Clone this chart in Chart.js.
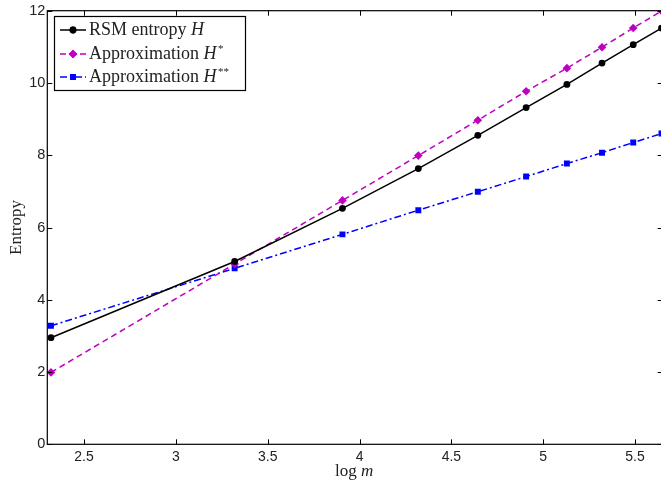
<!DOCTYPE html>
<html lang="en">
  <head>
    <meta charset="UTF-8" />
    <title>Entropy</title>
    <script src="https://cdn.jsdelivr.net/npm/chart.js"></script>
    <style>
      html, body { margin: 0; padding: 0; overflow: hidden; background: #fff; }
      #wrap { width: 670px; height: 483px; }
    </style>
  </head>
  <body>
    <div id="wrap"><canvas id="chart" width="670" height="483"></canvas></div>
    <script>
      // log m values (x) and the three entropy curves
      const logM = [2.32, 3.32, 3.907, 4.32, 4.644, 4.907, 5.129, 5.32, 5.49, 5.644];
      const rsmH = [2.95, 5.06, 6.53, 7.63, 8.55, 9.32, 9.96, 10.55, 11.06, 11.52];
      const approxH1 = [1.99, 4.99, 6.75, 7.99, 8.97, 9.77, 10.41, 10.99, 11.52, 11.99];
      const approxH2 = [3.28, 4.87, 5.81, 6.48, 6.99, 7.41, 7.77, 8.07, 8.35, 8.6];
      const xTicks = [2.5, 3, 3.5, 4, 4.5, 5, 5.5];
      const yTicks = [0, 2, 4, 6, 8, 10, 12];

      const serif = '"Liberation Serif", "DejaVu Serif", serif';
      const sans = '"Liberation Sans", Arial, sans-serif';
      const magenta = "#bf00bf";
      const blue = "#0000ff";

      function pts(ys) {
        return logM.map((x, i) => ({ x: x, y: ys[i] }));
      }

      // draws a string made of parts with different fonts / offsets
      function richText(ctx, parts, x, y) {
        for (const p of parts) {
          ctx.font = p.font;
          ctx.fillText(p.text, x, y + (p.dy || 0));
          x += ctx.measureText(p.text).width + (p.gap || 0);
        }
        return x;
      }

      const frame = {
        id: "frame",
        afterDraw(chart) {
          const ctx = chart.ctx;
          const a = chart.chartArea;
          const xs = chart.scales.x;
          const ys = chart.scales.y;
          ctx.save();
          ctx.strokeStyle = "#000";
          ctx.lineWidth = 1.2;
          ctx.strokeRect(a.left, a.top, a.right - a.left, a.bottom - a.top);
          ctx.lineWidth = 1;
          ctx.beginPath();
          for (const v of xTicks) {
            const px = Math.round(xs.getPixelForValue(v)) + 0.5;
            ctx.moveTo(px, a.bottom); ctx.lineTo(px, a.bottom - 5);
            ctx.moveTo(px, a.top); ctx.lineTo(px, a.top + 5);
          }
          for (const v of yTicks) {
            const py = Math.round(ys.getPixelForValue(v)) + 0.5;
            ctx.moveTo(a.left, py); ctx.lineTo(a.left + 5, py);
            ctx.moveTo(a.right, py); ctx.lineTo(a.right - 5, py);
          }
          ctx.stroke();

          // axis titles
          ctx.fillStyle = "#222";
          ctx.textBaseline = "middle";
          ctx.font = "17px " + serif;
          const w1 = ctx.measureText("log ").width;
          ctx.font = "italic 17px " + serif;
          const w2 = ctx.measureText("m").width;
          const cx = (a.left + 661) / 2;
          richText(ctx, [
            { text: "log ", font: "17px " + serif },
            { text: "m", font: "italic 17px " + serif },
          ], cx - (w1 + w2) / 2, 472);
          ctx.save();
          ctx.translate(17, (a.top + a.bottom) / 2);
          ctx.rotate(-Math.PI / 2);
          ctx.textAlign = "center";
          ctx.font = "17px " + serif;
          ctx.fillText("Entropy", 0, 0);
          ctx.restore();

          // legend
          ctx.fillStyle = "#fff";
          ctx.fillRect(54.5, 16.5, 191, 74);
          ctx.strokeStyle = "#000";
          ctx.lineWidth = 1.2;
          ctx.strokeRect(54.5, 16.5, 191, 74);
          const rows = [30, 54, 77];
          const f = "18px " + serif;
          const fi = "italic 18px " + serif;
          const labels = [
            [{ text: "RSM entropy ", font: f }, { text: "H", font: fi }],
            [{ text: "Approximation ", font: f }, { text: "H", font: fi, gap: 1.5 },
             { text: "*", font: "11px " + serif, dy: -5 }],
            [{ text: "Approximation ", font: f }, { text: "H", font: fi, gap: 1.5 },
             { text: "**", font: "11px " + serif, dy: -5 }],
          ];
          chart.data.datasets.forEach((ds, i) => {
            const y = rows[i];
            ctx.strokeStyle = ds.borderColor;
            ctx.lineWidth = ds.borderWidth;
            ctx.setLineDash(ds.borderDash || []);
            ctx.beginPath();
            ctx.moveTo(60, y); ctx.lineTo(86, y);
            ctx.stroke();
            ctx.setLineDash([]);
            ctx.fillStyle = ds.pointBackgroundColor;
            Chart.helpers.drawPoint(ctx, {
              pointStyle: ds.pointStyle, radius: ds.pointRadius, rotation: 0, borderWidth: 0,
            }, 73, y);
            ctx.fill();
            ctx.fillStyle = "#222";
            ctx.textBaseline = "middle";
            richText(ctx, labels[i], 89, y);
          });
          ctx.restore();
        },
      };

      new Chart(document.getElementById("chart"), {
        type: "line",
        data: {
          datasets: [
            {
              label: "RSM entropy H",
              data: pts(rsmH),
              borderColor: "#000",
              backgroundColor: "#000",
              pointBackgroundColor: "#000",
              borderWidth: 1.5,
              pointStyle: "circle",
              pointRadius: 3.4,
              pointBorderWidth: 0,
            },
            {
              label: "Approximation H*",
              data: pts(approxH1),
              borderColor: magenta,
              backgroundColor: magenta,
              pointBackgroundColor: magenta,
              borderWidth: 1.5,
              borderDash: [6, 4],
              pointStyle: "rectRot",
              pointRadius: 4.3,
              pointBorderWidth: 0,
            },
            {
              label: "Approximation H**",
              data: pts(approxH2),
              borderColor: blue,
              backgroundColor: blue,
              pointBackgroundColor: blue,
              borderWidth: 1.5,
              borderDash: [7, 3, 2, 3],
              pointStyle: "rect",
              pointRadius: 4.2,
              pointBorderWidth: 0,
            },
          ],
        },
        options: {
          responsive: false,
          animation: false,
          layout: { padding: { top: 10, right: 7.4, left: 0, bottom: 0 } },
          plugins: { legend: { display: false }, tooltip: { enabled: false } },
          elements: { line: { tension: 0 } },
          scales: {
            x: {
              type: "linear",
              min: 2.3,
              max: 5.65,
              grid: { display: false, drawTicks: false },
              border: { display: false },
              afterBuildTicks: (s) => { s.ticks = xTicks.map((v) => ({ value: v })); },
              afterFit: (s) => { s.height = 38.7; },
              ticks: {
                padding: 4,
                color: "#222",
                font: { family: sans, size: 14 },
                callback: (v) => String(v),
              },
            },
            y: {
              min: 0,
              max: 12,
              grid: { display: false, drawTicks: false },
              border: { display: false },
              afterBuildTicks: (s) => { s.ticks = yTicks.map((v) => ({ value: v })); },
              afterFit: (s) => { s.width = 47.3; },
              ticks: {
                padding: 2,
                color: "#222",
                font: { family: sans, size: 14.5 },
                callback: (v) => String(v),
              },
            },
          },
        },
        plugins: [frame],
      });
    </script>
  </body>
</html>
